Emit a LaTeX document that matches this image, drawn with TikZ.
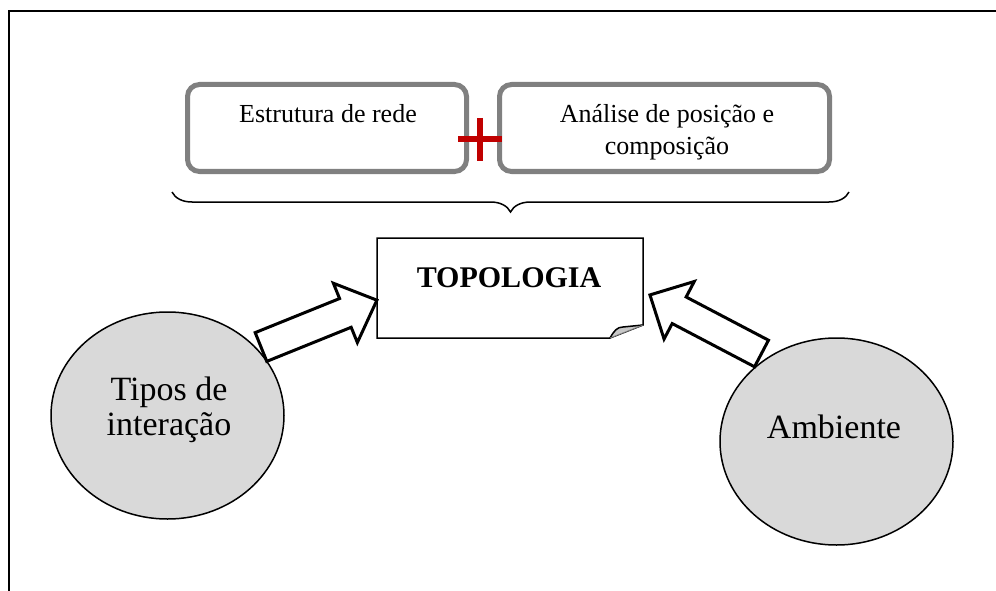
\documentclass[tikz,border=0pt]{standalone}
\usepackage{fontspec}
\setmainfont{Liberation Serif}
\usetikzlibrary{decorations.pathreplacing,shapes.geometric}
\definecolor{boxgray}{RGB}{128,128,128}
\definecolor{ellgray}{RGB}{217,217,217}
\definecolor{foldgray}{RGB}{200,200,200}
\definecolor{plusred}{RGB}{192,0,0}
\begin{document}
\begin{tikzpicture}[x=1pt,y=-1pt]
\useasboundingbox (0,0) rectangle (996,591);
\tikzset{
  graybox/.style={draw=boxgray, line width=5pt, rounded corners=12pt, inner sep=0pt},
  ell/.style={draw, fill=ellgray, ellipse, line width=1.5pt, inner sep=0pt},
  blockarrow/.style={draw, fill=white, line width=3pt, miter limit=10},
  txt/.style={inner sep=0pt, anchor=base, font=\fontsize{26}{32}\selectfont},
  bigtxt/.style={inner sep=0pt, anchor=base, font=\fontsize{34}{40}\selectfont}
}
% frame
\draw[line width=2pt] (8.5,591) -- (8.5,11.5) -- (996,11.5);

% top boxes
\node[graybox, minimum width=279pt, minimum height=87pt] (b1) at (327,128) {};
\node[graybox, minimum width=330pt, minimum height=87pt] (b2) at (664.5,128) {};
\node[txt] (t1) at (328,123) {Estrutura de rede};
\node[txt] (t2a) at (667,123) {Análise de posição e};
\node[txt] (t2b) at (667,155) {composição};
% plus sign
\draw[plusred, line width=6pt] (458,139.5) -- (502,139.5) (480,118) -- (480,161);

% brace
\coordinate (brL) at (172,192);
\coordinate (brR) at (849,192);
\draw[line width=1.5pt, decorate, decoration={brace, mirror, amplitude=20pt}] (brL) -- (brR);

% TOPOLOGIA box with folded corner
\draw[line width=1.5pt, fill=white, line join=miter]
  (377,238) -- (643,238) -- (643,325) -- (610,338) -- (377,338) -- cycle;
\filldraw[fill=foldgray, draw=black, line width=1.5pt, line join=round]
  (610,338) .. controls (614,331) and (617,327) .. (623,327) -- (643,325);
\draw[line width=0.8pt, draw=gray] (610,338) -- (643,325);
\node[inner sep=0pt, anchor=base, font=\fontsize{30}{36}\selectfont\bfseries] (topo) at (509,287) {TOPOLOGIA};
\coordinate (topoBox) at (510,288);

% ellipses
\node[ell, minimum width=233pt, minimum height=207pt] (tipos) at (167.5,415.5) {};
\node[bigtxt] (tiposA) at (169,400) {Tipos de};
\node[bigtxt] (tiposB) at (169,435) {interação};
\node[ell, minimum width=233pt, minimum height=207pt] (amb) at (836.5,441.5) {};
\node[bigtxt] (ambT) at (834,438) {Ambiente};

% block arrows
\begin{scope}[shift={(261,347)}, rotate=22]
  \draw[blockarrow] (0,-15.5) -- (91,-15.5) -- (91,-32) -- (125,0) -- (91,32) -- (91,15.5) -- (0,15.5) -- cycle;
\end{scope}
\begin{scope}[shift={(761.5,353.5)}, rotate=152.3]
  \draw[blockarrow] (0,-15) -- (93,-15) -- (93,-32.5) -- (126,0) -- (93,32.5) -- (93,15) -- (0,15) -- cycle;
\end{scope}
\end{tikzpicture}
\end{document}
